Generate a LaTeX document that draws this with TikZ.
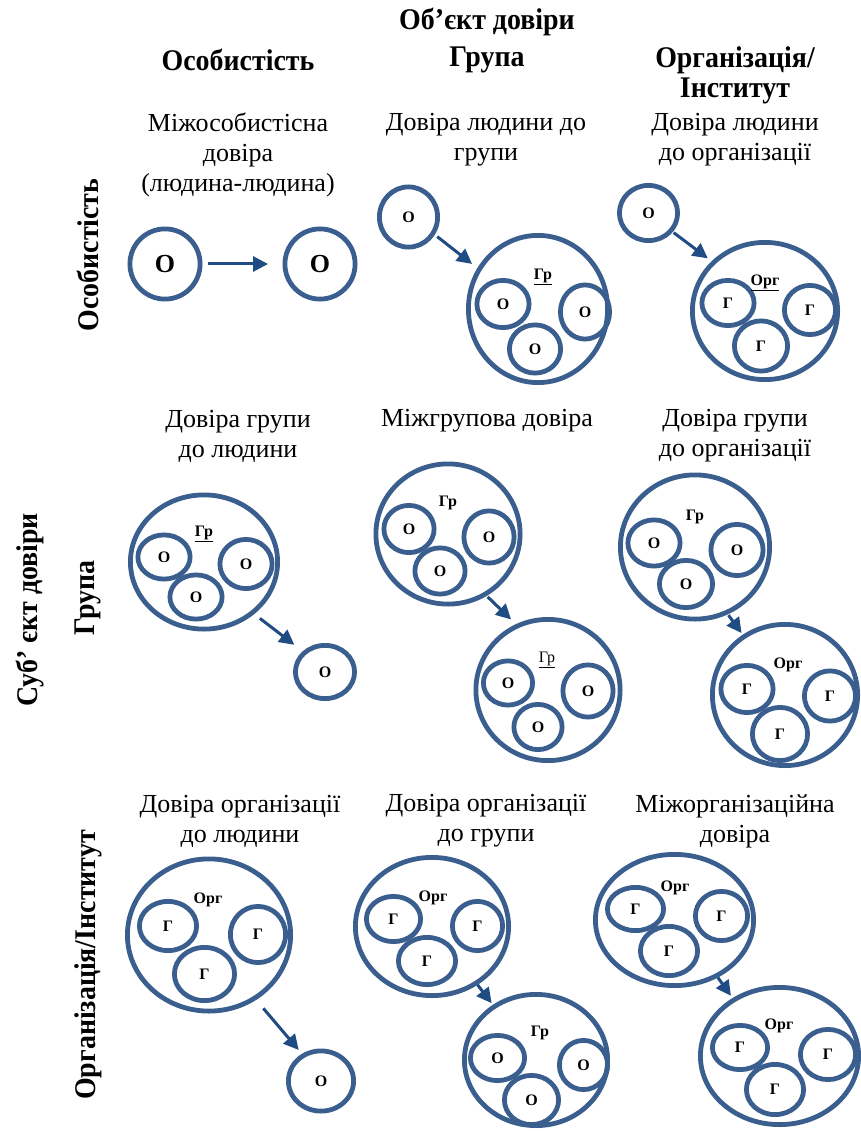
\documentclass[tikz,border=0pt]{standalone}
\usepackage{fontspec}
\setmainfont{Liberation Serif}
\newfontfamily\headfont[FakeStretch=0.93]{Liberation Serif}
\usetikzlibrary{shapes.geometric,arrows.meta}
\definecolor{ringblue}{HTML}{3A5F8E}
\definecolor{arrowblue}{HTML}{1F4C82}

\tikzset{
  % ring: outer radii (x, y) of the drawn outline
  ring/.style 2 args={ellipse, draw=ringblue, line width=4.8pt, inner sep=0pt,
    minimum width={2*#1pt-4.8pt}, minimum height={2*#2pt-4.8pt},
    font=\bfseries\fontsize{16}{16}\selectfont},
  bigletter/.style={font=\bfseries\fontsize{26}{26}\selectfont},
  tag/.style={inner sep=0pt, font=\bfseries\fontsize{16}{16}\selectfont},
  tagplain/.style={inner sep=0pt, font=\fontsize{16}{16}\selectfont},
  head/.style={inner sep=0pt, align=center, font=\headfont\bfseries\fontsize{30}{30}\selectfont},
  caption/.style={inner sep=0pt, align=center, font=\fontsize{26}{30}\selectfont},
  conn/.style={draw=arrowblue, line width=3pt, -{Triangle[length=15pt,width=15pt]}}
}

\begin{document}
\begin{tikzpicture}[x=1pt,y=-1pt]
\useasboundingbox (0,0) rectangle (860,1131);

% ---- axis headings ----
\node[head] (objhead) at (487,22) {Об’єкт довіри};
\node[head] (colP) at (238,60) {Особистість};
\node[head] (colG) at (487,60) {Група};
\node[head] (colO) at (735,75) {Організація/\\Інститут};

\node[head, rotate=90] (rowP) at (88,255) {Особистість};
\node[head, rotate=90] (rowG) at (88,598) {Група};
\node[head, rotate=90] (rowO) at (88,965) {Організація/Інститут};
\node[head, rotate=90] (subj) at (30,610) {Суб’\ єкт довіри};

% ---- cell captions ----
\node[caption] (c11) at (238,155) {Міжособистісна\\довіра\\(людина-людина)};
\node[caption] (c12) at (486,140) {Довіра людини до\\групи};
\node[caption] (c13) at (735,140) {Довіра людини\\до організації};
\node[caption] (c21) at (238,436) {Довіра групи\\до людини};
\node[caption] (c22) at (487,421) {Міжгрупова довіра};
\node[caption] (c23) at (735,436) {Довіра групи\\до організації};
\node[caption] (c31) at (240,821) {Довіра організації\\до людини};
\node[caption] (c32) at (486,821) {Довіра організації\\до групи};
\node[caption] (c33) at (735,821) {Міжорганізаційна\\довіра};

% ---- person -> person ----
\node[ring={37.5}{37.5}, bigletter] (p11a) at (165,264) {О};
\node[ring={37.5}{37.5}, bigletter] (p11b) at (320,264) {О};
\draw[conn, shorten <=5.5pt, shorten >=14.5pt] (p11a.east) -- (p11b.west);

% ---- person -> group ----
\node[ring={31.5}{32.5}] (a12) at (408.5,217) {О};
\node[ring={72}{76}] (g12) at (538,309) {};
\node[ring={28.5}{26}] (g12a) at (503,304) {О};
\node[ring={27}{29.5}] (g12b) at (585,312) {О};
\node[ring={28}{26.5}] (g12c) at (535,349) {О};
\node[tag] (g12t) at (543,277) {\underline{Гр}};
\draw[conn, shorten <=3pt, shorten >=6.7pt] (a12.-34) -- (g12.146);

% ---- person -> organisation ----
\node[ring={31.5}{30}] (a13) at (648.5,213) {О};
\node[ring={75}{71}] (o13) at (765,311) {};
\node[ring={28.5}{25}] (o13a) at (728,303) {Г};
\node[ring={28}{27}] (o13b) at (810,310) {Г};
\node[ring={29}{27.5}] (o13c) at (761,346) {Г};
\node[tag] (o13t) at (765,283) {\underline{Орг}};
\draw[conn, shorten <=1pt, shorten >=4.7pt] (a13.-38) -- (o13.137);

% ---- group -> person ----
\node[ring={76}{69.5}] (g21) at (204,562) {};
\node[ring={28.5}{24.5}] (g21a) at (164,557) {О};
\node[ring={28.5}{27}] (g21b) at (246,564) {О};
\node[ring={28.5}{24.5}] (g21c) at (196,597) {О};
\node[tag] (g21t) at (204,534) {\underline{Гр}};
\node[ring={32}{29}] (a21) at (325,672) {О};
\draw[conn, shorten <=7pt, shorten >=10.5pt] (g21.-46) -- (a21.137);

% ---- group -> group ----
\node[ring={74.5}{72.5}] (g22) at (448,534) {};
\node[ring={27.5}{26}] (g22a) at (409,529) {О};
\node[ring={27.5}{28.5}] (g22b) at (489,537) {О};
\node[ring={27.5}{25.5}] (g22c) at (440,571) {О};
\node[tag] (g22t) at (448,503) {Гр};
\node[ring={74.5}{73}] (h22) at (548,690) {};
\node[ring={27}{24.5}] (h22a) at (508,683) {О};
\node[ring={27.5}{28.5}] (h22b) at (588,691) {О};
\node[ring={26.5}{25}] (h22c) at (538,727) {О};
\node[tagplain] (h22t) at (547,660) {\underline{Гр}};
\draw[conn, shorten <=1.3pt, shorten >=6.7pt] (g22.-58) -- (h22.116);

% ---- group -> organisation ----
\node[ring={77}{74.5}] (g23) at (695,547) {};
\node[ring={28.5}{25.5}] (g23a) at (654,543) {О};
\node[ring={28.5}{28}] (g23b) at (737,550) {О};
\node[ring={29}{26}] (g23c) at (686,584) {О};
\node[tag] (g23t) at (695,517) {Гр};
\node[ring={75}{73}] (o23) at (785,695) {};
\node[ring={28.5}{26}] (o23a) at (747,689) {Г};
\node[ring={28}{27.5}] (o23b) at (830,696) {Г};
\node[ring={30}{29}] (o23c) at (780,734) {Г};
\node[tag] (o23t) at (788,665) {Орг};
\draw[conn, shorten <=1pt, shorten >=2pt] (g23.-64) -- (o23.125);

% ---- organisation -> person ----
\node[ring={84}{78.5}] (o31) at (209,935) {};
\node[ring={31}{27}] (o31a) at (168,926) {Г};
\node[ring={30}{30.5}] (o31b) at (258,934.5) {Г};
\node[ring={32.5}{29}] (o31c) at (204.5,974) {Г};
\node[tag] (o31t) at (208,900) {Орг};
\node[ring={35}{32.5}] (a31) at (321,1081) {О};
\draw[conn, shorten <=11pt, shorten >=5pt] (o31.-54) -- (a31.125);

% ---- organisation -> group ----
\node[ring={79}{71.5}] (o32) at (432,926.5) {};
\node[ring={29.5}{25}] (o32a) at (393.5,919) {Г};
\node[ring={27.5}{27}] (o32b) at (477.5,926) {Г};
\node[ring={31}{26}] (o32c) at (427,961) {Г};
\node[tag] (o32t) at (433,898) {Орг};
\node[ring={74}{68}] (g32) at (536,1060) {};
\node[ring={29.5}{25}] (g32a) at (497.5,1058) {О};
\node[ring={26.5}{27}] (g32b) at (583.5,1065) {О};
\node[ring={29.5}{27}] (g32c) at (531.5,1100) {О};
\node[tag] (g32t) at (540,1033) {Гр};
\draw[conn, shorten <=0pt, shorten >=2pt] (o32.-52) -- (g32.128);

% ---- organisation -> organisation ----
\node[ring={81.5}{68}] (o33) at (674.5,920) {};
\node[ring={30.5}{24}] (o33a) at (635.5,909) {Г};
\node[ring={28.5}{27}] (o33b) at (721.5,916) {Г};
\node[ring={31}{27}] (o33c) at (669,951) {Г};
\node[tag] (o33t) at (675,888) {Орг};
\node[ring={81.5}{71}] (p33) at (779.5,1056) {};
\node[ring={30}{24.5}] (p33a) at (740,1047.5) {Г};
\node[ring={30}{27.5}] (p33b) at (828,1054.5) {Г};
\node[ring={31}{27.5}] (p33c) at (775,1089.5) {Г};
\node[tag] (p33t) at (779,1026) {Орг};
\draw[conn, shorten <=0pt, shorten >=2.7pt] (o33.-53) -- (p33.129);
\end{tikzpicture}
\end{document}
